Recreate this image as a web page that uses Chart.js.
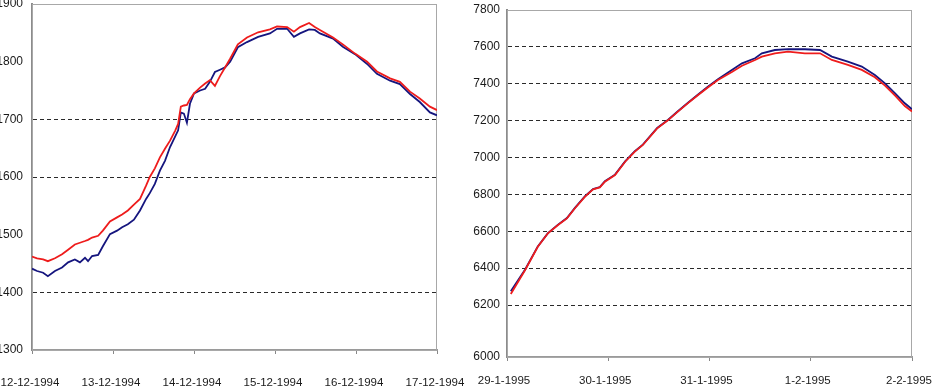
<!DOCTYPE html>
<html>
<head>
<meta charset="utf-8">
<script src="https://cdn.jsdelivr.net/npm/chart.js@4/dist/chart.umd.min.js"></script>
<style>
  html, body { margin: 0; padding: 0; background: #fff; }
  #wrap { position: relative; width: 932px; height: 390px; overflow: hidden; }
  #c1 { position: absolute; left: 0; top: 0; }
  #c2 { position: absolute; left: 465px; top: 0; }
</style>
</head>
<body>
<div id="wrap">
  <canvas id="c1" width="465" height="390"></canvas>
  <canvas id="c2" width="467" height="390"></canvas>
</div>
<script>
// ---------- Left chart data (hours after 12-12-1994 00:00) ----------
const leftDayLabels = ['12-12-1994', '13-12-1994', '14-12-1994', '15-12-1994', '16-12-1994', '17-12-1994'];
const leftYTicks = [1300, 1400, 1500, 1600, 1700, 1800, 1900];
const leftGridValues = [1400, 1600, 1700];
const leftHours = [0, 1.5, 3.3, 4.7, 6.8, 8.9, 10.7, 12.7, 14.2, 15.7, 16.6, 17.8, 19.6, 21.0, 23.1,
  25.2, 26.7, 28.4, 30.2, 32.0, 33.8, 34.9, 36.4, 37.9, 39.4, 40.9, 42.4, 43.3, 44.1, 45.0,
  45.9, 46.8, 48.0, 49.8, 51.3, 52.7, 54.2, 55.7, 57.2, 58.7, 61.0, 63.7, 67.0, 70.5, 72.6,
  75.6, 77.6, 79.4, 82.1, 83.8, 85.3, 89.2, 92.1, 95.7, 99.3, 102.2, 106.1, 109.0, 112.0, 114.9,
  117.9, 120];
const leftRed = [1462, 1459, 1457, 1454, 1459, 1466, 1474, 1483, 1486, 1489, 1491, 1495, 1498, 1507, 1523,
  1530, 1535, 1542, 1552, 1562, 1585, 1600, 1615, 1634, 1649, 1663, 1680, 1692, 1722, 1724,
  1725, 1735, 1745, 1755, 1762, 1768, 1758, 1775, 1790, 1805, 1830, 1842, 1851, 1856, 1861,
  1860, 1852, 1860, 1867, 1860, 1855, 1842, 1830, 1814, 1800, 1783, 1771, 1765, 1748, 1736,
  1722, 1716];
const leftBlue = [1441, 1437, 1434, 1428, 1437, 1443, 1452, 1457, 1452, 1460, 1454, 1463, 1465, 1480, 1501,
  1507, 1513, 1518, 1526, 1542, 1562, 1572, 1588, 1611, 1628, 1652, 1670, 1681, 1712, 1710,
  1694, 1727, 1745, 1750, 1753, 1765, 1782, 1786, 1790, 1800, 1825, 1834, 1843, 1849, 1857,
  1857, 1843, 1849, 1856, 1855, 1849, 1840, 1826, 1813, 1796, 1779, 1767, 1761, 1744, 1730,
  1712, 1707];

// ---------- Right chart data (hours after 29-1-1995 00:00) ----------
const rightDayLabels = ['29-1-1995', '30-1-1995', '31-1-1995', '1-2-1995', '2-2-1995'];
const rightYTickValues = [5918, 6200, 6400, 6600, 6800, 7000, 7200, 7400, 7600, 7800];
const rightYTickLabels = ['6000', '6200', '6400', '6600', '6800', '7000', '7200', '7400', '7600', '7800'];
const rightHours = [0.9, 4.3, 7.3, 9.7, 12.1, 14.2, 16.1, 18.5, 20.4, 22.0, 23.2, 25.6, 28.0, 30.3, 32.2,
  35.6, 38.2, 40.5, 42.9, 45.3, 47.6, 50.0, 53.3, 55.7, 58.8, 60.4, 63.5, 66.6, 70.6, 74.2,
  77.0, 80.8, 84.1, 87.2, 89.6, 92.0, 94.3, 96.0];
const rightRed = [6260, 6390, 6516, 6589, 6634, 6670, 6725, 6788, 6827, 6838, 6869, 6905, 6977, 7032, 7068,
  7158, 7203, 7249, 7295, 7339, 7380, 7420, 7464, 7498, 7529, 7547, 7565, 7574, 7565, 7565,
  7529, 7502, 7475, 7435, 7390, 7335, 7279, 7250];
const rightBlue = [6275, 6393, 6518, 6590, 6636, 6672, 6727, 6790, 6829, 6840, 6871, 6907, 6979, 7034, 7070,
  7160, 7205, 7251, 7297, 7342, 7384, 7425, 7475, 7511, 7538, 7565, 7583, 7588, 7587, 7583,
  7547, 7520, 7493, 7447, 7402, 7348, 7294, 7262];

const RED = '#ee1c1c';
const NAVY = '#15157e';
const FONT = 'Liberation Sans, Arial, sans-serif';

const boxPlugin = {
  id: 'plotBox',
  beforeDatasetsDraw(chart) {
    const a = chart.chartArea, ctx = chart.ctx;
    ctx.save();
    ctx.strokeStyle = '#a8a8a8';
    ctx.lineWidth = 1;
    ctx.strokeRect(a.left + 0.5, a.top + 0.5, a.right - a.left - 1, a.bottom - a.top);
    ctx.restore();
  }
};

function pts(xs, ys) { return xs.map((x, i) => ({ x: x, y: ys[i] })); }

function makeChart(id, cfg) {
  return new Chart(document.getElementById(id), {
    type: 'line',
    data: {
      datasets: [
        { label: 'red', data: pts(cfg.hours, cfg.red), borderColor: RED, borderWidth: 1.8, pointRadius: 0, tension: 0, fill: false },
        { label: 'blue', data: pts(cfg.hours, cfg.blue), borderColor: NAVY, borderWidth: 1.8, pointRadius: 0, tension: 0, fill: false }
      ]
    },
    options: {
      responsive: false,
      animation: false,
      events: [],
      layout: { padding: cfg.padding },
      plugins: { legend: { display: false }, tooltip: { enabled: false } },
      scales: {
        x: {
          type: 'linear',
          min: 0,
          max: cfg.xMax,
          afterBuildTicks: s => { s.ticks = cfg.dayLabels.map((_, i) => ({ value: i * 24 })); },
          afterFit: s => { s.height = cfg.xHeight; s.paddingLeft = 0; s.paddingRight = 0; },
          grid: { drawOnChartArea: false, drawTicks: true, tickLength: 4, tickColor: '#888', tickWidth: 1 },
          border: { display: true, color: '#9a9a9a', width: 2 },
          ticks: {
            autoSkip: false, maxRotation: 0, minRotation: 0,
            padding: cfg.xLabelPad, labelOffset: cfg.labelOffset,
            color: '#1a1a1a', font: { family: FONT, size: 11.5 },
            callback: (v, i) => cfg.dayLabels[i]
          }
        },
        y: {
          type: 'linear',
          min: cfg.yMin,
          max: cfg.yMax,
          afterBuildTicks: s => { s.ticks = cfg.yTicks.map(v => ({ value: v })); },
          afterFit: s => { s.width = cfg.yWidth; s.paddingTop = 0; s.paddingBottom = 0; },
          grid: {
            drawTicks: false,
            lineWidth: 1,
            color: c => (c.tick && cfg.gridOn(c.tick.value)) ? '#2a2a2a' : 'rgba(0,0,0,0)'
          },
          border: { display: true, color: '#8c8c8c', width: 2, dash: [4, 3] },
          ticks: {
            padding: cfg.yLabelPad,
            color: '#1a1a1a', font: { family: FONT, size: 12 },
            callback: (v, i) => cfg.yLabels[i]
          }
        }
      }
    },
    plugins: [boxPlugin]
  });
}

makeChart('c1', {
  hours: leftHours, red: leftRed, blue: leftBlue,
  dayLabels: leftDayLabels, xMax: 120,
  yMin: 1300, yMax: 1900, yTicks: leftYTicks, yLabels: leftYTicks.map(String),
  gridOn: v => leftGridValues.includes(v),
  padding: { top: 4, right: 28, bottom: 0, left: 0 },
  yWidth: 32, xHeight: 40, xLabelPad: 22, yLabelPad: 9, labelOffset: -2
});

makeChart('c2', {
  hours: rightHours, red: rightRed, blue: rightBlue,
  dayLabels: rightDayLabels, xMax: 96,
  yMin: rightYTickValues[0], yMax: 7800, yTicks: rightYTickValues, yLabels: rightYTickLabels,
  gridOn: v => v >= 6200 && v <= 7600,
  padding: { top: 10, right: 20, bottom: 0, left: 0 },
  yWidth: 42, xHeight: 33, xLabelPad: 13, yLabelPad: 7, labelOffset: -3
});
</script>
</body>
</html>
